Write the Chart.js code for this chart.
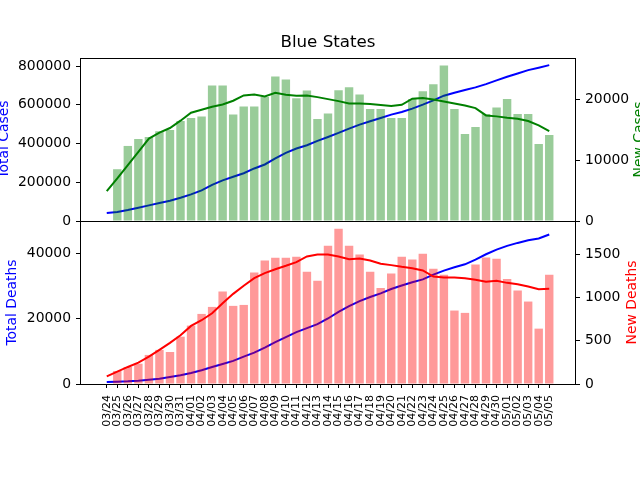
<!DOCTYPE html>
<html>
<head>
<meta charset="utf-8">
<script src="https://cdn.jsdelivr.net/npm/chart.js@4"></script>
<style>
  html, body { margin: 0; padding: 0; background: #fff; overflow: hidden; }
  #wrap { position: relative; width: 640px; height: 480px; }
  canvas { position: absolute; left: 0; }
  #topChart { top: 0; }
  #bottomChart { top: 200px; }
</style>
</head>
<body>
<div id="wrap">
  <canvas id="topChart" width="640" height="240"></canvas>
  <canvas id="bottomChart" width="640" height="280"></canvas>
</div>
<script>
const dates = ["03/24", "03/25", "03/26", "03/27", "03/28", "03/29", "03/30", "03/31",
  "04/01", "04/02", "04/03", "04/04", "04/05", "04/06", "04/07", "04/08", "04/09", "04/10",
  "04/11", "04/12", "04/13", "04/14", "04/15", "04/16", "04/17", "04/18", "04/19", "04/20",
  "04/21", "04/22", "04/23", "04/24", "04/25", "04/26", "04/27", "04/28", "04/29", "04/30",
  "05/01", "05/02", "05/03", "05/04", "05/05"];

const newCases = [null, 8550, 12390, 13540, 13870, 14800, 15020, 16500, 16990, 17270,
  22370, 22370, 17600, 18910, 18910, 20450, 23850, 23360, 20280, 21550,
  16830, 17760, 21600, 22090, 20890, 18470, 18470, 16990, 16990, 20120,
  21430, 22590, 25660, 18470, 14360, 15510, 17650, 18750, 20120, 17650,
  17650, 12710, 14190];
const totalCases = [41200, 46400, 56700, 68700, 80700, 92700, 104600, 120000, 137500, 158000,
  187000, 209700, 228300, 247000, 271500, 292000, 323000, 352000, 374500, 391500,
  413800, 434300, 455000, 477500, 498000, 515000, 532500, 549500, 563000, 580600,
  601000, 623400, 647600, 663000, 676500, 690400, 707400, 726400, 745500, 762500,
  779500, 792000, 805300];
const avgCases = [4934, 7020, 9210, 11400, 13600, 14590, 15350, 16560, 17870, 18370,
  18860, 19240, 19850, 20720, 20890, 20560, 21160, 20830, 20670, 20720,
  20450, 20120, 19790, 19410, 19410, 19300, 19130, 18970, 19190, 20180,
  20290, 20070, 19740, 19410, 19080, 18640, 17430, 17270, 17050, 16890,
  16500, 15790, 14850];

const newDeaths = [null, 150, 197, 235, 336, 394, 370, 547, 675, 810,
  891, 1068, 903, 914, 1288, 1427, 1458, 1458, 1470, 1296,
  1192, 1597, 1794, 1597, 1497, 1296, 1111, 1277, 1470, 1439,
  1505, 1331, 1262, 849, 822, 1381, 1462, 1447, 1215, 1080,
  953, 640, 1262];
const totalDeaths = [615, 710, 820, 1030, 1330, 1640, 2150, 2670, 3380, 4200,
  5230, 6150, 7080, 8410, 9640, 11180, 12820, 14360, 15900, 17130,
  18360, 20100, 22150, 23900, 25440, 26670, 27790, 29130, 30200, 31200,
  32100, 33540, 34770, 35790, 36720, 38150, 39800, 41230, 42360, 43280,
  44100, 44620, 45850];
const avgDeaths = [89, 143, 197, 247, 316, 394, 475, 563, 671, 737,
  818, 934, 1042, 1136, 1223, 1281, 1327, 1366, 1408, 1474,
  1497, 1497, 1474, 1443, 1451, 1427, 1389, 1374, 1354, 1339,
  1312, 1242, 1231, 1231, 1223, 1204, 1181, 1192, 1169, 1154,
  1126, 1096, 1100];

const casesTicks = [0, 200000, 400000, 600000, 800000];
const newCasesTicks = [0, 10000, 20000];
const deathsTicks = [0, 20000, 40000];
const newDeathsTicks = [0, 500, 1000, 1500];

Chart.defaults.font.family = "DejaVu Sans";
Chart.defaults.color = "#000";
Chart.defaults.animation = false;

const pts = arr => arr.map((v, i) => ({ x: i, y: v }));
const xMin = -2.54, xMax = 44.54;

// matplotlib style box round the plot area
const frame = {
  id: "frame",
  afterDraw(chart) {
    const { ctx, chartArea: a } = chart;
    ctx.save();
    ctx.strokeStyle = "#000";
    ctx.lineWidth = 1;
    ctx.strokeRect(Math.round(a.left) + 0.5, Math.round(a.top) + 0.5,
      Math.round(a.right - a.left) - 1, Math.round(a.bottom - a.top));
    ctx.restore();
  }
};

// right-hand axis title, reading upwards like matplotlib's ylabel
const sideTitle = {
  id: "sideTitle",
  afterDraw(chart, args, opts) {
    if (!opts.text) return;
    const { ctx, chartArea: a } = chart;
    ctx.save();
    ctx.translate(opts.x, (a.top + a.bottom) / 2);
    ctx.rotate(-Math.PI / 2);
    ctx.font = "13.9px 'DejaVu Sans'";
    ctx.fillStyle = opts.color;
    ctx.textAlign = "center";
    ctx.textBaseline = "middle";
    ctx.fillText(opts.text, 0, 0);
    ctx.restore();
  }
};

function yAxis(position, max, ticks, title, color, titlePad, width) {
  return {
    type: "linear",
    position: position,
    min: 0,
    max: max,
    afterBuildTicks: s => { s.ticks = ticks.map(v => ({ value: v })); },
    afterFit: s => { s.width = width; },
    grid: { drawOnChartArea: false, color: "#000", tickLength: 4 },
    border: { display: false },
    ticks: { font: { size: 13.9 }, padding: 5, callback: v => String(v) },
    title: { display: title !== null, text: title, color: color, font: { size: 13.9 },
      padding: { top: titlePad, bottom: 0 } }
  };
}

function lineSet(data, axis, color, order) {
  return { type: "line", data: pts(data), yAxisID: axis, borderColor: color,
    borderWidth: 2, pointRadius: 0, tension: 0, order: order };
}

function barSet(data, axis, color) {
  return { type: "bar", data: pts(data), yAxisID: axis, backgroundColor: color,
    borderWidth: 0, categoryPercentage: 1, barPercentage: 0.8, order: 2 };
}

new Chart(document.getElementById("topChart"), {
  type: "bar",
  data: {
    datasets: [
      lineSet(totalCases, "y", "#0000ff", 3),
      barSet(newCases, "y1", "rgba(0,128,0,0.4)"),
      lineSet(avgCases, "y1", "#008000", 1)
    ]
  },
  options: {
    responsive: false,
    layout: { padding: 0 },
    plugins: {
      legend: { display: false },
      tooltip: { enabled: false },
      title: { display: true, text: "Blue States", fullSize: false, color: "#000",
        font: { size: 16.7, weight: "normal" }, padding: { top: 33, bottom: 5 } },
      sideTitle: { text: "New Cases", color: "#008000", x: 639 }
    },
    scales: {
      x: { type: "linear", min: xMin, max: xMax, offset: false,
        afterFit: s => { s.height = 19; },
        grid: { display: false }, ticks: { display: false }, border: { display: false } },
      y: yAxis("left", 842000, casesTicks, "Total Cases", "#0000ff", -4.3, 80),
      y1: yAxis("right", 26900, newCasesTicks, null, "#008000", 0, 64)
    }
  },
  plugins: [frame, sideTitle]
});

new Chart(document.getElementById("bottomChart"), {
  type: "bar",
  data: {
    datasets: [
      lineSet(totalDeaths, "y", "#0000ff", 3),
      barSet(newDeaths, "y1", "rgba(255,0,0,0.4)"),
      lineSet(avgDeaths, "y1", "#ff0000", 1)
    ]
  },
  options: {
    responsive: false,
    layout: { padding: { top: 21, left: 0, right: 0, bottom: 0 } },
    plugins: {
      legend: { display: false },
      tooltip: { enabled: false },
      sideTitle: { text: "New Deaths", color: "#ff0000", x: 632.5 }
    },
    scales: {
      x: { type: "linear", min: xMin, max: xMax, offset: false,
        afterBuildTicks: s => { s.ticks = dates.map((d, i) => ({ value: i })); },
        afterFit: s => { s.height = 96; },
        grid: { drawOnChartArea: false, color: "#000", tickLength: 4, offset: false },
        border: { display: false },
        ticks: { autoSkip: false, minRotation: 90, maxRotation: 90, font: { size: 11 },
          padding: 7, callback: v => dates[v] } },
      y: yAxis("left", 50000, deathsTicks, "Total Deaths", "#0000ff", 4.2, 80),
      y1: yAxis("right", 1884, newDeathsTicks, null, "#ff0000", 0, 64)
    }
  },
  plugins: [frame, sideTitle]
});
</script>
</body>
</html>
